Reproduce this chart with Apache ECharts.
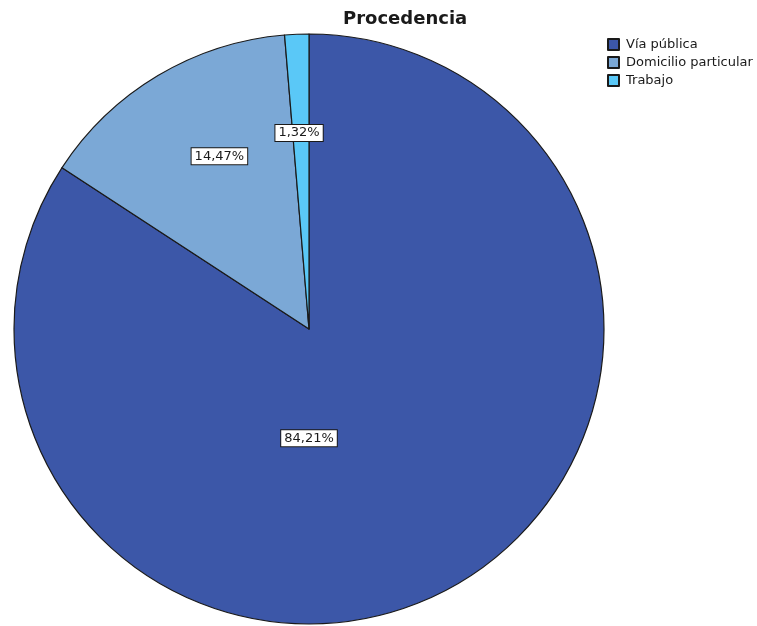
<!DOCTYPE html>
<html>
<head>
<meta charset="utf-8">
<script src="https://cdn.jsdelivr.net/npm/echarts@6/dist/echarts.min.js"></script>
<style>
  html, body { margin: 0; padding: 0; background: #fff; }
  #chart { width: 757px; height: 626px; }
</style>
</head>
<body>
<div id="chart"></div>
<script>
// Categories and shares (percent) of the "Procedencia" variable
const categories = ['Vía pública', 'Domicilio particular', 'Trabajo'];
const shares = [84.21, 14.47, 1.32];
const colors = ['#3c57a8', '#7ba8d6', '#5ac8f7'];

// Where each value box sits: angle (deg, clockwise from 12 o'clock) and fraction of the radius
const labelSpots = [[180, 0.37], [332.6, 0.66], [357.1, 0.665]];

const pieCenter = [309, 329];
const pieRadius = 295;

const chart = echarts.init(document.getElementById('chart'));

chart.setOption({
  animation: false,
  backgroundColor: '#ffffff',
  textStyle: { fontFamily: 'DejaVu Sans' },
  title: {
    text: 'Procedencia',
    left: 343,
    top: 10,
    padding: 0,
    textStyle: { fontSize: 18, fontWeight: 'bold', color: '#1a1a1a', fontFamily: 'DejaVu Sans' }
  },
  legend: {
    orient: 'vertical',
    left: 607,
    top: 38,
    padding: 0,
    itemWidth: 11,
    itemHeight: 11,
    itemGap: 5,
    icon: 'rect',
    textStyle: { fontSize: 13, color: '#1a1a1a', padding: [0, 0, 0, 2] },
    data: categories
  },
  series: [{
    type: 'pie',
    center: pieCenter,
    radius: pieRadius,
    startAngle: 90,
    clockwise: true,
    avoidLabelOverlap: false,
    emphasis: { disabled: true },
    itemStyle: { borderColor: '#1a1a1a', borderWidth: 1.2 },
    label: {
      show: true,
      position: 'inside',
      formatter: p => p.value.toFixed(2).replace('.', ',') + '%',
      fontSize: 13,
      color: '#1a1a1a',
      backgroundColor: '#ffffff',
      borderColor: '#1a1a1a',
      borderWidth: 1,
      padding: [2, 3, 1, 3]
    },
    labelLine: { show: false },
    labelLayout: function (p) {
      const s = labelSpots[p.dataIndex];
      const a = s[0] * Math.PI / 180;
      return {
        x: pieCenter[0] + Math.sin(a) * s[1] * pieRadius,
        y: pieCenter[1] - Math.cos(a) * s[1] * pieRadius,
        align: 'center',
        verticalAlign: 'middle'
      };
    },
    data: categories.map((name, i) => ({
      name: name,
      value: shares[i],
      itemStyle: { color: colors[i] }
    }))
  }]
});
</script>
</body>
</html>
